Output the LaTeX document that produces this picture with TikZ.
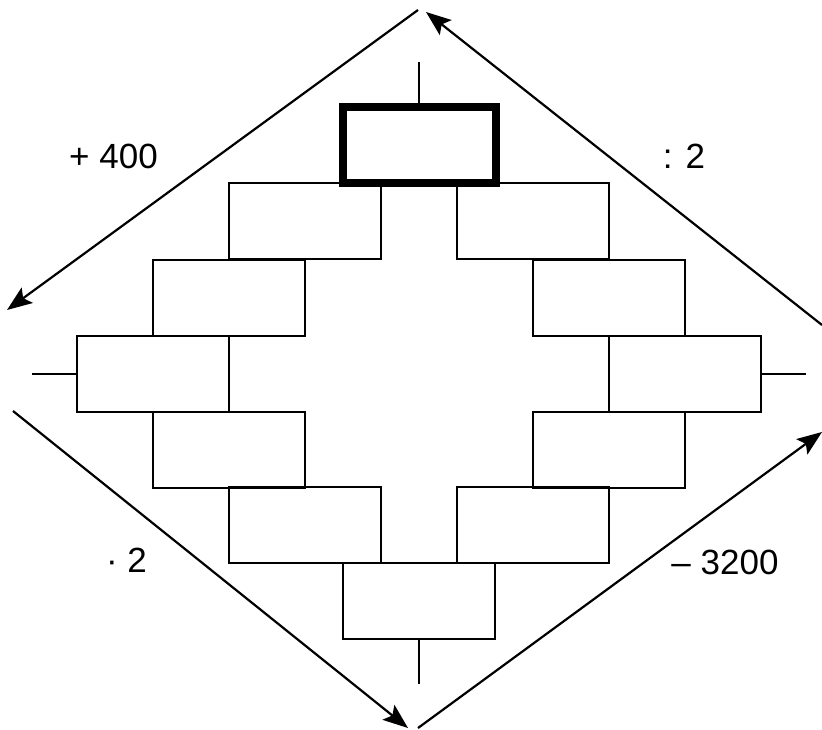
\documentclass[tikz,border=0pt]{standalone}
\usepackage{fontspec}
\setmainfont{Liberation Sans}
\usetikzlibrary{arrows.meta}
\begin{document}
\begin{tikzpicture}[x=1pt,y=-1pt,
  brick/.style={draw, line width=2pt, minimum width=152pt, minimum height=76pt, inner sep=0pt, outer sep=0pt},
  topbrick/.style={brick, line width=8pt, minimum width=153pt},
  tick/.style={line width=2pt},
  arr/.style={line width=2.2pt, -{Stealth[length=25pt,width=19pt,inset=5pt]}},
  lbl/.style={font=\fontsize{35}{40}\selectfont, inner sep=0pt}]
\useasboundingbox (0,0) rectangle (822,729);
% bricks
\node[topbrick] (top) at (419,144.5) {};
\node[brick] (l1) at (305,221) {};
\node[brick] (r1) at (533,221) {};
\node[brick] (l2) at (229,297.5) {};
\node[brick] (r2) at (609,297.5) {};
\node[brick] (l3) at (153,374) {};
\node[brick] (r3) at (685,374) {};
\node[brick] (l4) at (229,449.5) {};
\node[brick] (r4) at (609,449.5) {};
\node[brick] (l5) at (305,525) {};
\node[brick] (r5) at (533,525) {};
\node[brick] (bot) at (419,601) {};
% ticks
\coordinate (tt) at (419,62);
\coordinate (tb) at (419,684);
\coordinate (tl) at (32,374);
\coordinate (tr) at (806,374);
\draw[tick] (tt) -- (top.north);
\draw[tick] (bot.south) -- (tb);
\draw[tick] (tl) -- (l3.west);
\draw[tick] (r3.east) -- (tr);
% arrows
\coordinate (a1) at (418,10);  \coordinate (a2) at (7,310);
\coordinate (b1) at (822,325); \coordinate (b2) at (426,12);
\coordinate (c1) at (13,411);  \coordinate (c2) at (408,728);
\coordinate (d1) at (418,728); \coordinate (d2) at (822,432);
\draw[arr] (a1) -- (a2);
\draw[arr] (b1) -- (b2);
\draw[arr] (c1) -- (c2);
\draw[arr] (d1) -- (d2);
% labels
\node[lbl] (p) at (113.5,156) {+ 400};
\node[lbl] (q) at (684,156) {: 2};
\node[lbl] (m) at (126.5,560) {· 2};
\node[lbl] (s) at (725,562) {– 3200};
\end{tikzpicture}
\end{document}
